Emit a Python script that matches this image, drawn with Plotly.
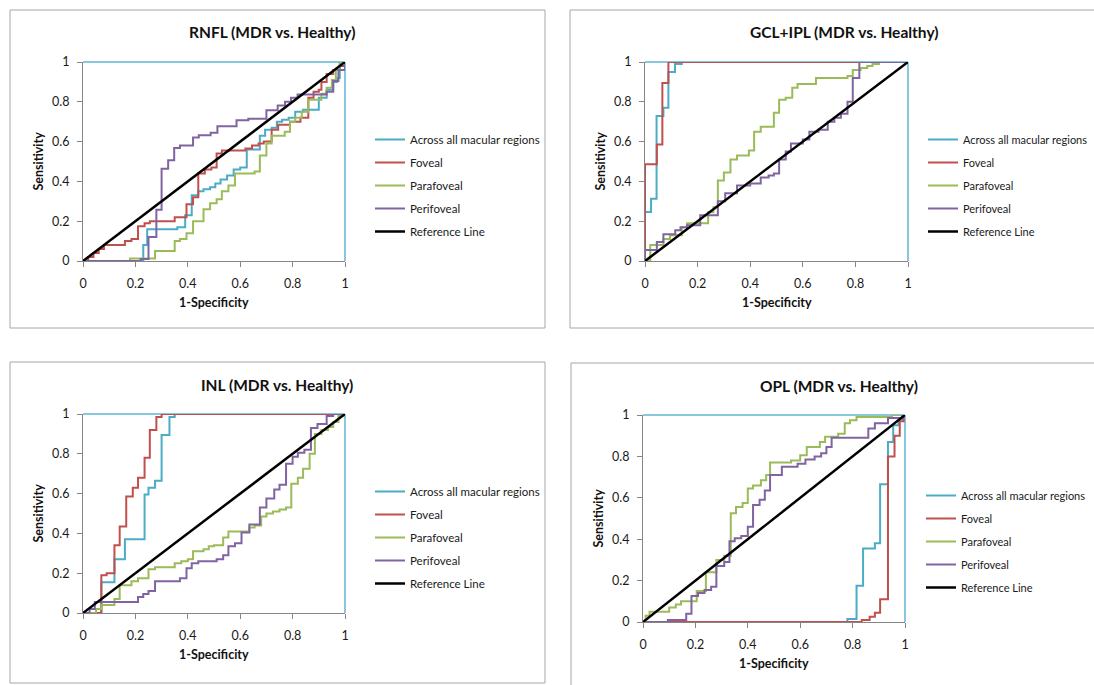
import plotly.graph_objects as go

W, H = 1094, 685

SERIES = ["Across all macular regions", "Foveal", "Parafoveal", "Perifoveal"]
COLORS = ["#4BACC6", "#C0504D", "#9BBB59", "#8064A2"]
REF_NAME = "Reference Line"

TITLES = ["RNFL (MDR vs. Healthy)", "GCL+IPL (MDR vs. Healthy)",
          "INL (MDR vs. Healthy)", "OPL (MDR vs. Healthy)"]
TICK_VALS = [0, 0.2, 0.4, 0.6, 0.8, 1]
TICK_TEXT = ["0", "0.2", "0.4", "0.6", "0.8", "1"]

# ---- RNFL ROC curves (1-specificity, sensitivity) ----
rnfl_all_x = [0, 0.23, 0.245, 0.36, 0.39, 0.415, 0.44, 0.46, 0.485, 0.505, 0.525, 0.55, 0.575, 0.60, 0.625,
              0.675, 0.695, 0.72, 0.74, 0.76, 0.785, 0.81, 0.84, 0.90, 0.93, 0.955, 0.97, 0.98, 1]
rnfl_all_y = [0, 0.08, 0.16, 0.17, 0.23, 0.33, 0.35, 0.36, 0.37, 0.39, 0.41, 0.43, 0.46, 0.47, 0.56,
              0.63, 0.66, 0.67, 0.70, 0.71, 0.72, 0.75, 0.76, 0.82, 0.86, 0.90, 0.92, 1.0, 1]
rnfl_fov_x = [0, 0.02, 0.04, 0.06, 0.08, 0.16, 0.185, 0.21, 0.235, 0.255, 0.35, 0.395, 0.42, 0.44, 0.465, 0.49,
              0.51, 0.53, 0.62, 0.645, 0.67, 0.69, 0.72, 0.745, 0.79, 0.83, 0.86, 0.88, 0.90, 0.91, 0.93, 0.955,
              0.98, 1]
rnfl_fov_y = [0, 0.02, 0.04, 0.06, 0.08, 0.10, 0.11, 0.175, 0.19, 0.20, 0.22, 0.285, 0.32, 0.44, 0.46, 0.47,
              0.54, 0.555, 0.565, 0.58, 0.59, 0.60, 0.66, 0.685, 0.70, 0.72, 0.82, 0.85, 0.86, 0.90, 0.94, 0.96,
              0.98, 1]
rnfl_para_x = [0, 0.18, 0.275, 0.35, 0.37, 0.395, 0.42, 0.46, 0.485, 0.51, 0.53, 0.555, 0.58, 0.655, 0.675,
               0.70, 0.72, 0.77, 0.79, 0.81, 0.835, 0.86, 0.91, 0.93, 0.95, 0.965, 0.98, 1]
rnfl_para_y = [0, 0.012, 0.05, 0.10, 0.11, 0.14, 0.20, 0.26, 0.29, 0.31, 0.35, 0.38, 0.44, 0.45, 0.53,
               0.59, 0.63, 0.65, 0.70, 0.72, 0.75, 0.81, 0.84, 0.87, 0.91, 0.96, 1.0, 1]
rnfl_peri_x = [0, 0.22, 0.25, 0.28, 0.30, 0.325, 0.348, 0.37, 0.42, 0.442, 0.487, 0.513, 0.586, 0.631, 0.70,
               0.743, 0.771, 0.794, 0.819, 0.93, 0.955, 0.975, 1]
rnfl_peri_y = [0, 0.01, 0.12, 0.258, 0.464, 0.506, 0.568, 0.581, 0.62, 0.632, 0.645, 0.677, 0.707, 0.715, 0.757,
               0.782, 0.80, 0.82, 0.837, 0.85, 0.905, 0.96, 1]

# ---- GCL+IPL ----
gcl_all_x = [0, 0, 0.023, 0.044, 0.07, 0.089, 0.114, 0.14, 1]
gcl_all_y = [0, 0.246, 0.313, 0.729, 0.77, 0.95, 0.99, 1.0, 1]
gcl_fov_x = [0, 0, 0.045, 0.066, 0.089, 1]
gcl_fov_y = [0, 0.486, 0.585, 0.895, 1.0, 1]
gcl_para_x = [0, 0.02, 0.07, 0.095, 0.14, 0.16, 0.24, 0.26, 0.277, 0.30, 0.325, 0.35, 0.395, 0.415, 0.44, 0.49,
              0.51, 0.535, 0.56, 0.58, 0.65, 0.77, 0.79, 0.82, 0.845, 0.865, 0.89, 1]
gcl_para_y = [0, 0.08, 0.11, 0.13, 0.17, 0.19, 0.245, 0.27, 0.405, 0.445, 0.51, 0.53, 0.555, 0.65, 0.675, 0.745,
              0.81, 0.82, 0.87, 0.89, 0.92, 0.93, 0.96, 0.97, 0.98, 0.99, 1.0, 1]
gcl_peri_x = [0, 0, 0.045, 0.07, 0.115, 0.135, 0.16, 0.21, 0.277, 0.305, 0.35, 0.40, 0.44, 0.47, 0.49, 0.51,
              0.535, 0.555, 0.60, 0.625, 0.66, 0.695, 0.72, 0.745, 0.77, 0.79, 0.815, 1]
gcl_peri_y = [0, 0.055, 0.095, 0.135, 0.155, 0.17, 0.18, 0.23, 0.30, 0.34, 0.38, 0.39, 0.42, 0.43, 0.44, 0.51,
              0.55, 0.59, 0.61, 0.65, 0.66, 0.70, 0.72, 0.74, 0.80, 0.92, 1.0, 1]

# ---- INL ----
inl_all_x = [0, 0.07, 0.12, 0.16, 0.235, 0.25, 0.275, 0.30, 0.33, 0.35, 1]
inl_all_y = [0, 0.155, 0.27, 0.37, 0.595, 0.63, 0.665, 0.895, 0.985, 1.0, 1]
inl_fov_x = [0, 0.07, 0.09, 0.12, 0.14, 0.165, 0.19, 0.21, 0.235, 0.255, 0.28, 0.30, 1]
inl_fov_y = [0, 0.19, 0.20, 0.34, 0.435, 0.585, 0.63, 0.68, 0.78, 0.92, 0.985, 1.0, 1]
inl_para_x = [0, 0.05, 0.07, 0.12, 0.14, 0.185, 0.21, 0.25, 0.275, 0.35, 0.375, 0.40, 0.42, 0.46, 0.48, 0.50,
              0.535, 0.555, 0.635, 0.655, 0.68, 0.70, 0.725, 0.75, 0.775, 0.795, 0.82, 0.84, 0.865, 0.885, 0.91,
              0.935, 0.955, 0.975, 1]
inl_para_y = [0, 0.02, 0.04, 0.07, 0.14, 0.16, 0.175, 0.22, 0.23, 0.25, 0.26, 0.27, 0.31, 0.32, 0.335, 0.34,
              0.38, 0.41, 0.43, 0.44, 0.485, 0.50, 0.51, 0.52, 0.53, 0.65, 0.68, 0.725, 0.80, 0.90, 0.92,
              0.935, 0.96, 0.99, 1]
inl_peri_x = [0, 0.025, 0.045, 0.21, 0.23, 0.25, 0.275, 0.37, 0.395, 0.415, 0.44, 0.51, 0.535, 0.555, 0.58,
              0.605, 0.635, 0.675, 0.70, 0.73, 0.75, 0.775, 0.80, 0.82, 0.845, 0.87, 0.895, 0.93, 0.955, 1]
inl_peri_y = [0, 0.02, 0.055, 0.08, 0.095, 0.11, 0.16, 0.175, 0.225, 0.25, 0.26, 0.27, 0.29, 0.335, 0.35,
              0.405, 0.445, 0.53, 0.575, 0.62, 0.645, 0.75, 0.785, 0.805, 0.82, 0.93, 0.95, 0.99, 1.0, 1]

# ---- OPL ----
opl_all_x = [0, 0.78, 0.815, 0.84, 0.885, 0.905, 0.935, 0.955, 0.975, 0.99, 1]
opl_all_y = [0, 0.015, 0.175, 0.355, 0.38, 0.665, 0.87, 0.95, 0.98, 1.0, 1]
opl_fov_x = [0, 0.835, 0.865, 0.885, 0.905, 0.935, 0.96, 0.98, 0.995, 1]
opl_fov_y = [0, 0.01, 0.025, 0.045, 0.11, 0.80, 0.90, 0.97, 1.0, 1]
opl_para_x = [0, 0.01, 0.025, 0.10, 0.125, 0.145, 0.205, 0.24, 0.28, 0.31, 0.335, 0.355, 0.38, 0.40, 0.42,
              0.45, 0.47, 0.485, 0.565, 0.60, 0.625, 0.675, 0.695, 0.745, 0.77, 0.79, 0.815, 0.95, 1]
opl_para_y = [0, 0.03, 0.05, 0.07, 0.085, 0.10, 0.15, 0.24, 0.30, 0.32, 0.525, 0.555, 0.575, 0.645, 0.66,
              0.685, 0.71, 0.77, 0.78, 0.805, 0.845, 0.87, 0.895, 0.91, 0.96, 0.975, 0.99, 1.0, 1]
opl_peri_x = [0, 0.095, 0.165, 0.185, 0.21, 0.235, 0.26, 0.28, 0.31, 0.33, 0.35, 0.375, 0.40, 0.42, 0.445,
              0.465, 0.485, 0.53, 0.59, 0.62, 0.655, 0.68, 0.70, 0.72, 0.86, 0.885, 0.935, 0.99, 1]
opl_peri_y = [0, 0.01, 0.04, 0.125, 0.14, 0.155, 0.17, 0.27, 0.29, 0.39, 0.405, 0.415, 0.46, 0.565, 0.59,
              0.635, 0.71, 0.75, 0.765, 0.785, 0.80, 0.815, 0.845, 0.89, 0.935, 0.96, 0.985, 1.0, 1]

ref_x = [0, 1]
ref_y = [0, 1]

panels = [
    [(rnfl_all_x, rnfl_all_y), (rnfl_fov_x, rnfl_fov_y), (rnfl_para_x, rnfl_para_y), (rnfl_peri_x, rnfl_peri_y)],
    [(gcl_all_x, gcl_all_y), (gcl_fov_x, gcl_fov_y), (gcl_para_x, gcl_para_y), (gcl_peri_x, gcl_peri_y)],
    [(inl_all_x, inl_all_y), (inl_fov_x, inl_fov_y), (inl_para_x, inl_para_y), (inl_peri_x, inl_peri_y)],
    [(opl_all_x, opl_all_y), (opl_fov_x, opl_fov_y), (opl_para_x, opl_para_y), (opl_peri_x, opl_peri_y)],
]

# Layout geometry in pixels: plot area (left, right, top, bottom), outer frame, legend anchor, title centre
plot_px = [(83, 345, 62, 261), (645, 908, 62, 261), (83, 345, 414, 613), (643, 905, 415, 622)]
frame_px = [(10, 545, 10, 328), (570, 1100, 10, 328), (10, 545, 362, 683), (571, 1100, 363, 690)]
legend_px = [(370, 125), (923, 125), (370, 477), (921, 481)]
legend_font = [11.5, 11, 11.5, 11]
title_px = [(272, 32), (844, 32), (277, 385), (839, 386)]

FONT = "Lato"
fig = go.Figure()


def px_x(v):
    return v / W


def px_y(v):
    return 1 - v / H


shapes = []
annotations = []
layout_extra = {}

for i, series in enumerate(panels):
    n = i + 1
    xa = "x" if n == 1 else f"x{n}"
    ya = "y" if n == 1 else f"y{n}"
    leg = "legend" if n == 1 else f"legend{n}"
    for j, (xs, ys) in enumerate(series):
        fig.add_trace(go.Scatter(
            x=xs, y=ys, mode="lines", line=dict(color=COLORS[j], width=2, shape="hv"),
            name=SERIES[j], xaxis=xa, yaxis=ya, legend=leg, legendgroup=f"{n}-{j}",
            hoverinfo="skip"))
    fig.add_trace(go.Scatter(
        x=ref_x, y=ref_y, mode="lines", line=dict(color="#000000", width=2.5),
        name=REF_NAME, xaxis=xa, yaxis=ya, legend=leg, legendgroup=f"{n}-ref", hoverinfo="skip"))

    l, r, t, b = plot_px[i]
    axis_common = dict(range=[0, 1], tickvals=TICK_VALS, ticktext=TICK_TEXT, showgrid=False,
                       zeroline=False, showline=True, linecolor="#868686", linewidth=1,
                       ticks="outside", ticklen=5, tickcolor="#868686", automargin=False,
                       tickfont=dict(family=FONT, size=12.5, color="#1a1a1a"), fixedrange=True)
    layout_extra["xaxis" if n == 1 else f"xaxis{n}"] = dict(
        domain=[px_x(l), px_x(r)], anchor=ya, ticklabelstandoff=6, **axis_common)
    layout_extra["yaxis" if n == 1 else f"yaxis{n}"] = dict(
        domain=[px_y(b), px_y(t)], anchor=xa, ticklabelstandoff=5, **axis_common)

    # plot area border on the top and right sides
    shapes.append(dict(type="line", xref=f"{xa} domain", yref=f"{ya} domain", x0=0, x1=1, y0=1, y1=1,
                       line=dict(color="#62B5D3", width=1.5), layer="below"))
    shapes.append(dict(type="line", xref=f"{xa} domain", yref=f"{ya} domain", x0=1, x1=1, y0=0, y1=1,
                       line=dict(color="#62B5D3", width=1.5), layer="below"))

    # chart frame
    fl, fr, ft, fb = frame_px[i]
    shapes.append(dict(type="rect", xref="paper", yref="paper", x0=px_x(fl), x1=px_x(fr),
                       y0=px_y(fb), y1=px_y(ft), line=dict(color="#A6A6A6", width=1)))

    tx, ty = title_px[i]
    annotations.append(dict(text=f"<b>{TITLES[i]}</b>", x=px_x(tx), y=px_y(ty), xref="paper", yref="paper",
                            showarrow=False, xanchor="center", yanchor="middle",
                            font=dict(family=FONT, size=15.5, color="#111111")))
    annotations.append(dict(text="<b>1-Specificity</b>", x=px_x((l + r) / 2), y=px_y(b + 41), xref="paper",
                            yref="paper", showarrow=False, xanchor="center", yanchor="middle",
                            font=dict(family=FONT, size=12.5, color="#111111")))
    annotations.append(dict(text="<b>Sensitivity</b>", x=px_x(l - 45), y=px_y((t + b) / 2), xref="paper",
                            yref="paper", showarrow=False, xanchor="center", yanchor="middle", textangle=-90,
                            font=dict(family=FONT, size=12.5, color="#111111")))

    lx, ly = legend_px[i]
    layout_extra[leg] = dict(x=px_x(lx), y=px_y(ly), xanchor="left", yanchor="top",
                             bgcolor="rgba(0,0,0,0)", borderwidth=0, itemwidth=30,
                             tracegroupgap=4, traceorder="grouped",
                             font=dict(family=FONT, size=legend_font[i], color="#1a1a1a"),
                             itemclick=False, itemdoubleclick=False)

fig.update_layout(width=W, height=H, margin=dict(l=0, r=0, t=0, b=0, pad=0, autoexpand=False),
                  paper_bgcolor="white", plot_bgcolor="white", showlegend=True,
                  shapes=shapes, annotations=annotations, **layout_extra)

fig.write_html("out.html")
